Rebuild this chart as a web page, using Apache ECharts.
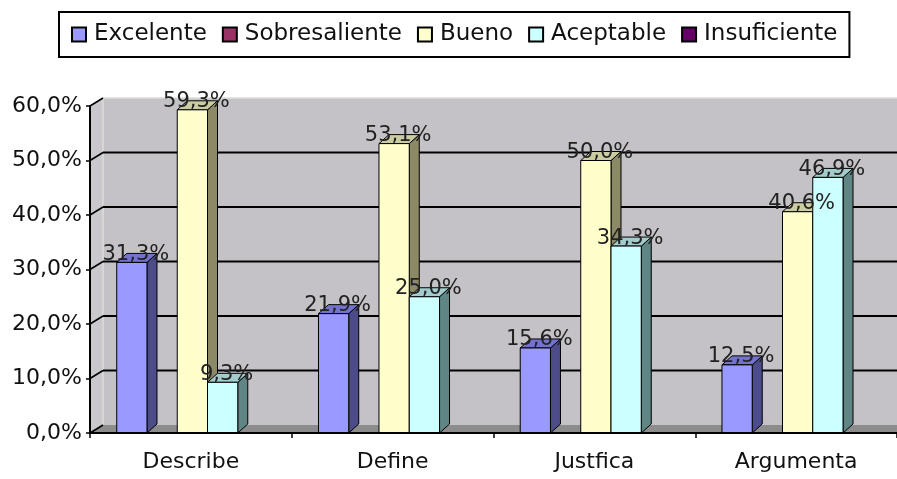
<!DOCTYPE html>
<html>
<head>
<meta charset="utf-8">
<script src="https://cdn.jsdelivr.net/npm/echarts@6/dist/echarts.min.js"></script>
<style>
  html, body { margin: 0; padding: 0; background: #fff; }
  #chart { width: 897px; height: 479px; }
</style>
</head>
<body>
<div id="chart"></div>
<script>
var myChart = echarts.init(document.getElementById('chart'));

var categories = ['Describe', 'Define', 'Justfica', 'Argumenta'];
var seriesNames = ['Excelente', 'Sobresaliente', 'Bueno', 'Aceptable', 'Insuficiente'];
var excelente = [31.3, 21.9, 15.6, 12.5];
var sobresaliente = [0, 0, 0, 0];
var bueno = [59.3, 53.1, 50.0, 40.6];
var aceptable = [9.3, 25.0, 34.3, 46.9];
var insuficiente = [0, 0, 0, 0];
var yTicks = [0, 10, 20, 30, 40, 50, 60];

var seriesValues = [excelente, sobresaliente, bueno, aceptable, insuficiente];

// front, side, top
var faceColors = [
    ['#9999FF', '#4C4C8A', '#7373CC'],
    ['#993366', '#4D1A33', '#7A2952'],
    ['#FFFFCC', '#8C8A66', '#CCCCA3'],
    ['#CCFFFF', '#5F8585', '#A3CCCC'],
    ['#660066', '#330033', '#520052']
];

var DX = 10, DY = -9;   // depth of the bars
var WX = 13, WY = -8;   // depth of the walls
var FONT = '"DejaVu Sans", Verdana, sans-serif';

function fmt(v) {
    return v.toFixed(1).replace('.', ',') + '%';
}

function renderFrame(params, api) {
    var cs = params.coordSys;
    var gx = cs.x;
    var right = cs.x + cs.width;
    var v = api.value(1);
    var yv = api.coord([0, v])[1];
    var y0 = api.coord([0, 0])[1];
    var yTop = api.coord([0, 60])[1];
    var children = [];
    if (params.dataIndex === 0) {
        children.push({
            type: 'rect', z2: 0,
            shape: {x: gx + WX, y: yTop + WY, width: right - gx - WX, height: y0 - yTop},
            style: {fill: '#C4C2C6'}
        });
        children.push({
            type: 'polygon', z2: 0,
            shape: {points: [[gx, yTop], [gx + WX, yTop + WY], [gx + WX, y0 + WY], [gx, y0]]},
            style: {fill: '#CAC8CC'}
        });
        children.push({
            type: 'line', z2: 1,
            shape: {x1: gx + WX, y1: yTop + WY, x2: gx + WX, y2: y0 + WY},
            style: {stroke: '#DCDCDC', lineWidth: 1.5}
        });
        children.push({
            type: 'line', z2: 1,
            shape: {x1: gx + WX, y1: yTop + WY, x2: right, y2: yTop + WY},
            style: {stroke: '#DCDCDC', lineWidth: 1.5}
        });
        children.push({
            type: 'polygon', z2: 0,
            shape: {points: [[gx, y0], [gx + WX, y0 + WY], [right, y0 + WY], [right, y0]]},
            style: {fill: '#8C8C8C'}
        });
    }
    if (v > 0 && v < 60) {
        children.push({
            type: 'line', z2: 2,
            shape: {x1: gx + WX, y1: yv + WY, x2: right, y2: yv + WY},
            style: {stroke: '#000', lineWidth: 2}
        });
    }
    children.push({
        type: 'line', z2: 2,
        shape: {x1: gx, y1: yv, x2: gx + WX, y2: yv + WY},
        style: {stroke: '#000', lineWidth: 1.5}
    });
    return {type: 'group', children: children};
}

function makeBarRenderer(idx) {
    return function (params, api) {
        var val = api.value(1);
        if (!val) {
            return;
        }
        var cat = api.value(0);
        var base = api.coord([cat, 0]);
        var top = api.coord([cat, val]);
        var catW = api.size([1, 0])[0];
        var groupW = catW * 0.75;
        var barW = groupW / 5;
        var x0 = base[0] - groupW / 2 + idx * barW + 1.5;
        var x1 = x0 + barW;
        var y0 = base[1];
        var y1 = top[1];
        var c = faceColors[idx];
        return {
            type: 'group',
            children: [{
                type: 'polygon',
                shape: {points: [[x1, y0], [x1 + DX, y0 + DY], [x1 + DX, y1 + DY], [x1, y1]]},
                style: {fill: c[1], stroke: '#000', lineWidth: 1}
            }, {
                type: 'polygon',
                shape: {points: [[x0, y1], [x1, y1], [x1 + DX, y1 + DY], [x0 + DX, y1 + DY]]},
                style: {fill: c[2], stroke: '#000', lineWidth: 1}
            }, {
                type: 'rect',
                shape: {x: x0, y: y1, width: barW, height: y0 - y1},
                style: {fill: c[0], stroke: '#000', lineWidth: 1}
            }, {
                type: 'text', z2: 100,
                style: {
                    text: fmt(val),
                    x: (x0 + x1) / 2 + 4,
                    y: y1 - 8,
                    align: 'center',
                    verticalAlign: 'middle',
                    font: '21px ' + FONT,
                    fill: '#222'
                }
            }]
        };
    };
}

var series = [{
    name: 'frame',
    type: 'custom',
    z: 1,
    silent: true,
    renderItem: renderFrame,
    data: yTicks.map(function (v) { return [0, v]; })
}];

seriesNames.forEach(function (name, idx) {
    series.push({
        name: name,
        type: 'custom',
        z: 2,
        renderItem: makeBarRenderer(idx),
        itemStyle: {color: faceColors[idx][0], borderColor: '#000', borderWidth: 1},
        data: seriesValues[idx].map(function (v, i) { return [i, v]; })
    });
});

myChart.setOption({
    backgroundColor: '#fff',
    animation: false,
    legend: {
        data: seriesNames,
        left: 59,
        top: 12,
        padding: [11, 12],
        icon: 'rect',
        itemWidth: 14,
        itemHeight: 14,
        itemGap: 15,
        borderColor: '#000',
        borderWidth: 2,
        textStyle: {
            fontSize: 23,
            fontFamily: FONT,
            color: '#111',
            padding: [0, 0, 0, 3]
        }
    },
    grid: {
        left: 90,
        right: 0,
        top: 106,
        bottom: 46
    },
    xAxis: {
        type: 'category',
        data: categories,
        z: 5,
        axisLine: {lineStyle: {color: '#000', width: 2}},
        axisTick: {show: true, length: 5, lineStyle: {color: '#000', width: 1.5}},
        axisLabel: {
            margin: 18,
            fontSize: 22,
            fontFamily: FONT,
            color: '#111'
        },
        splitLine: {show: false}
    },
    yAxis: {
        type: 'value',
        min: 0,
        max: 60,
        interval: 10,
        z: 5,
        axisLine: {show: true, lineStyle: {color: '#000', width: 2}},
        axisTick: {show: true, length: 4, lineStyle: {color: '#000', width: 1.5}},
        axisLabel: {
            margin: 8,
            fontSize: 22,
            fontFamily: FONT,
            color: '#111',
            formatter: function (v) { return fmt(v); }
        },
        splitLine: {show: false}
    },
    series: series
});
</script>
</body>
</html>
